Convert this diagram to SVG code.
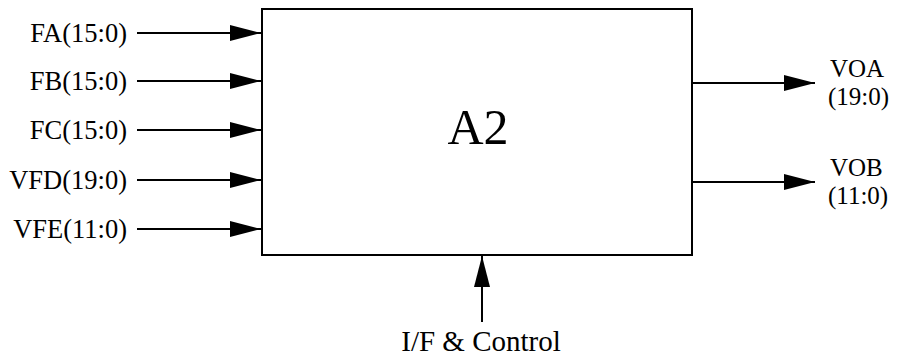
<svg xmlns="http://www.w3.org/2000/svg" width="898" height="359" viewBox="0 0 898 359">
<style>
text{font-family:"Liberation Serif","Times New Roman",serif;fill:#000}
.lbl{font-size:26.5px}
.out{font-size:25px}
.in{text-anchor:end}
.wire{stroke:#000;stroke-width:2;fill:none}
</style>
<defs>
<marker id="ah" markerUnits="userSpaceOnUse" markerWidth="32" markerHeight="18" refX="31" refY="8" orient="auto">
<path d="M0,0 L31,8 L0,16 Z" fill="#000"/>
</marker>
</defs>
<rect width="898" height="359" fill="#fff"/>
<g id="node-a2">
<rect x="262" y="9" width="430" height="246" fill="#fff" stroke="#000" stroke-width="2"/>
<text x="478" y="144" font-size="50" text-anchor="middle">A2</text>
</g>
<g id="connectors">
<line class="wire" x1="137" y1="33" x2="261" y2="33" marker-end="url(#ah)"/>
<line class="wire" x1="137" y1="81" x2="261" y2="81" marker-end="url(#ah)"/>
<line class="wire" x1="137" y1="130" x2="261" y2="130" marker-end="url(#ah)"/>
<line class="wire" x1="137" y1="180" x2="261" y2="180" marker-end="url(#ah)"/>
<line class="wire" x1="137" y1="229" x2="261" y2="229" marker-end="url(#ah)"/>
<line class="wire" x1="692" y1="83" x2="815" y2="83" marker-end="url(#ah)"/>
<line class="wire" x1="692" y1="182" x2="815" y2="182" marker-end="url(#ah)"/>
<line class="wire" x1="482" y1="322" x2="482" y2="256" marker-end="url(#ah)"/>
</g>
<g id="labels">
<text class="lbl in" x="127" y="42">FA(15:0)</text>
<text class="lbl in" x="127" y="90">FB(15:0)</text>
<text class="lbl in" x="127" y="139">FC(15:0)</text>
<text class="lbl in" x="127" y="189">VFD(19:0)</text>
<text class="lbl in" x="127" y="238">VFE(11:0)</text>
<text class="out" x="830" y="77">VOA</text>
<text class="out" x="828" y="105">(19:0)</text>
<text class="out" x="830" y="176">VOB</text>
<text class="out" x="828" y="204">(11:0)</text>
<text x="481" y="351" font-size="29" text-anchor="middle">I/F &amp; Control</text>
</g>
</svg>
